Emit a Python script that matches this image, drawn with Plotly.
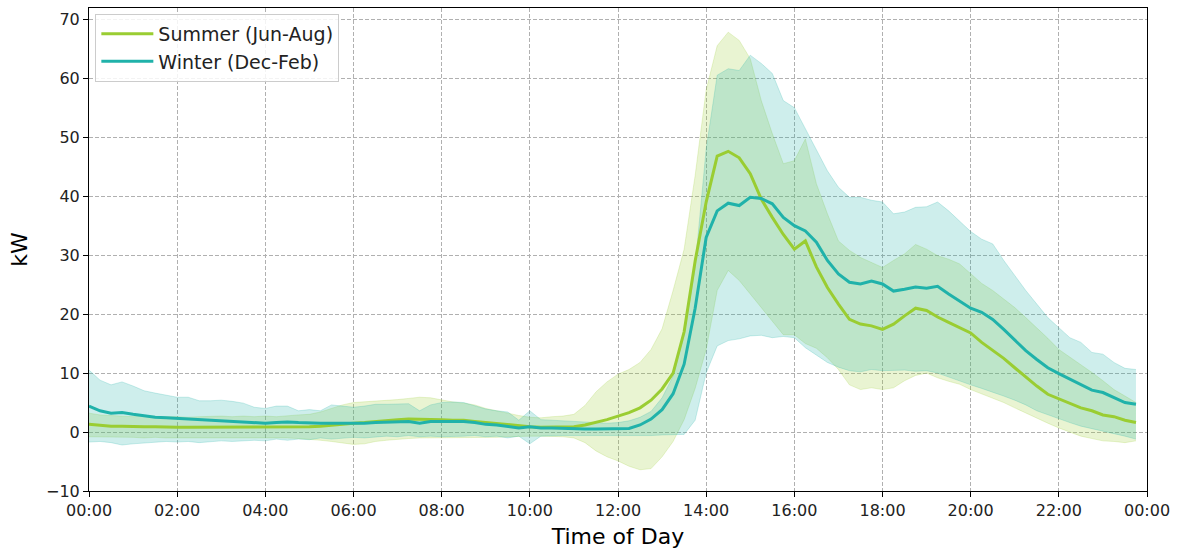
import plotly.graph_objects as go

# Average charging load per 15-minute slot (kW), with the spread band
slot_hours = [i * 0.25 for i in range(96)]

summer_mean = [
    1.3, 1.1, 1.0, 1.0,  0.9, 0.9, 0.9, 0.8,  0.8, 0.8, 0.8, 0.9,  0.9, 0.8, 0.9, 0.8,
    0.9, 0.8, 0.9, 0.9,  0.9, 1.0, 1.2, 1.4,  1.5, 1.6, 1.8, 2.0,  2.1, 2.2, 2.2, 2.2,
    2.1, 2.0, 2.0, 1.8,  1.6, 1.4, 1.2, 1.0,  0.9, 0.8, 0.8, 0.8,  0.9, 1.2, 1.6, 2.1,
    2.7, 3.3, 4.1, 5.4,  7.3, 10.0, 17.0, 29.0,  39.0, 46.8, 47.6, 46.5,  43.8, 39.5, 36.4, 33.5,
    31.0, 32.4, 28.0, 24.5,  21.7, 19.1, 18.3, 18.0,  17.4, 18.3, 19.7, 21.0,  20.6, 19.5, 18.6, 17.7,
    16.8, 15.2, 13.8, 12.5,  10.9, 9.3, 7.8, 6.4,  5.6, 4.8, 4.1, 3.6,  2.9, 2.6, 2.0, 1.6,
]
summer_hi = [
    3.2, 2.9, 2.8, 2.7,  2.6, 2.7, 2.6, 2.6,  2.6, 2.5, 2.6, 2.7,  2.7, 2.6, 2.7, 2.6,
    2.7, 2.6, 2.8, 2.9,  3.0, 3.4, 4.0, 4.6,  5.0, 5.1, 5.2, 5.3,  5.5, 5.7, 5.9, 5.8,
    5.4, 5.1, 4.9, 4.6,  4.0, 3.6, 3.1, 2.8,  2.5, 2.4, 2.6, 2.7,  3.0, 4.5, 6.8, 8.5,
    9.8, 10.6, 11.8, 14.0,  17.5, 24.0, 31.0, 43.5,  58.0, 65.5, 67.8, 66.4,  63.3, 56.2, 50.6, 45.5,
    46.0, 49.7, 42.1, 37.0,  32.4, 30.8, 29.6, 28.8,  27.9, 29.1, 30.2, 31.8,  31.0, 29.9, 29.3, 28.5,
    26.8, 25.2, 24.0, 22.6,  21.1, 19.4, 17.7, 15.9,  14.0, 12.7, 11.5, 10.1,  8.7, 7.2, 6.1, 5.0,
]
summer_lo = [
    -0.8, -0.8, -0.9, -0.9,  -0.9, -1.0, -0.9, -1.0,  -1.0, -0.9, -1.0, -0.9,  -0.9, -1.0, -0.9, -1.0,
    -1.0, -0.9, -1.0, -1.1,  -1.2, -1.4, -1.6, -1.9,  -2.1, -2.0, -1.6, -1.4,  -1.2, -1.1, -1.0, -1.0,
    -1.0, -1.0, -1.0, -1.0,  -1.0, -0.9, -0.8, -0.7,  -0.7, -0.7, -0.7, -0.8,  -1.0, -1.8, -3.2, -4.2,
    -4.9, -5.8, -6.4, -6.2,  -4.2, -1.6, 2.1, 7.4,  14.0, 24.0, 27.4, 25.7,  23.4, 21.1, 18.9, 16.5,
    16.5, 15.0, 14.2, 12.6,  10.6, 8.0, 7.2, 7.5,  7.2, 7.5, 8.7, 9.6,  10.0, 9.2, 8.6, 8.1,
    7.2, 6.5, 5.8, 5.0,  4.1, 3.2, 2.4, 1.5,  0.7, 0.0, -0.7, -1.1,  -1.5, -1.6, -1.8, -1.5,
]

winter_mean = [
    4.4, 3.6, 3.2, 3.3,  3.0, 2.7, 2.5, 2.4,  2.3, 2.2, 2.0, 1.9,  1.9, 1.8, 1.7, 1.6,
    1.5, 1.6, 1.7, 1.6,  1.5, 1.5, 1.5, 1.5,  1.4, 1.5, 1.6, 1.7,  1.7, 1.8, 1.5, 1.8,
    1.8, 1.8, 1.8, 1.6,  1.3, 1.2, 1.0, 0.7,  0.9, 0.7, 0.7, 0.6,  0.6, 0.5, 0.5, 0.5,
    0.5, 0.6, 1.2, 2.2,  3.8, 6.5, 11.5, 21.0,  33.0, 37.5, 38.8, 38.4,  39.8, 39.6, 38.7, 36.4,
    35.0, 34.1, 32.2, 29.1,  26.8, 25.4, 25.1, 25.6,  25.1, 23.9, 24.2, 24.6,  24.4, 24.7, 23.4, 22.2,
    21.0, 20.3, 19.1, 17.4,  15.6, 13.8, 12.3, 10.9,  9.9, 9.0, 8.1, 7.1,  6.7, 5.8, 5.0, 4.7,
]
winter_hi = [
    10.5, 8.8, 8.0, 8.5,  7.8, 7.0, 6.6, 6.2,  5.9, 5.9, 5.3, 5.3,  5.4, 5.2, 4.9, 4.2,
    4.0, 4.4, 4.4, 3.6,  3.8, 3.6, 4.6, 4.4,  4.2, 4.4, 4.7, 4.7,  4.8, 4.8, 3.6, 4.6,
    5.0, 5.1, 5.0, 4.5,  3.9, 3.6, 3.4, 2.0,  3.6, 2.1, 2.0, 1.9,  1.7, 1.6, 1.5, 1.5,
    1.6, 1.9, 2.5, 3.5,  5.8, 9.5, 16.5, 28.0,  48.0, 60.5, 61.6, 61.3,  63.9, 62.5, 60.8, 56.2,
    55.0, 51.4, 47.7, 44.3,  41.5, 39.8, 39.8, 39.3,  39.0, 37.0, 37.3, 38.1,  38.2, 39.0, 37.5, 35.8,
    34.0, 32.7, 31.9, 29.1,  26.5, 24.0, 21.7, 19.4,  17.7, 16.0, 15.2, 13.5,  13.2, 11.8, 10.8, 10.6,
]
winter_lo = [
    -1.7, -1.6, -1.8, -2.2,  -2.0, -1.9, -1.8, -1.6,  -1.7, -1.6, -1.8, -1.6,  -1.5, -1.6, -1.5, -1.4,
    -1.5, -1.2, -1.4, -1.2,  -1.3, -1.0, -1.2, -1.0,  -0.9, -1.0, -0.8, -0.7,  -0.8, -0.6, -0.8, -0.7,
    -0.8, -0.8, -0.7, -0.6,  -0.8, -0.7, -1.0, -0.7,  -2.0, -0.7, -0.6, -0.6,  -0.6, -0.6, -0.7, -0.7,
    -0.7, -0.7, -0.7, -0.6,  -0.5, -0.5, -0.4, 2.0,  10.0, 14.6, 15.5, 15.8,  16.3, 16.4, 16.0, 16.2,
    16.0, 14.3, 13.0, 11.8,  11.0, 10.4, 10.2, 10.6,  10.4, 10.4, 10.5, 10.3,  10.4, 10.0, 9.3, 8.7,
    8.0, 7.4, 6.8, 6.1,  5.4, 4.6, 3.6, 2.9,  2.2, 1.6, 1.0, 0.6,  0.2, -0.2, -0.7, -1.2,
]

tick_hours = [0, 2, 4, 6, 8, 10, 12, 14, 16, 18, 20, 22, 24]
tick_labels = ["00:00", "02:00", "04:00", "06:00", "08:00", "10:00", "12:00",
               "14:00", "16:00", "18:00", "20:00", "22:00", "00:00"]
y_ticks = [-10, 0, 10, 20, 30, 40, 50, 60, 70]

SUMMER_RGB = (154, 205, 50)   # yellowgreen
WINTER_RGB = (32, 178, 170)   # lightseagreen


def rgba(rgb, a):
    return "rgba(%d,%d,%d,%.2f)" % (rgb[0], rgb[1], rgb[2], a)


fig = go.Figure()

seasons = [
    ("Summer (Jun-Aug)", summer_mean, summer_lo, summer_hi, SUMMER_RGB),
    ("Winter (Dec-Feb)", winter_mean, winter_lo, winter_hi, WINTER_RGB),
]

# shaded spread bands
for name, mean, lo, hi, rgb in seasons:
    fig.add_trace(go.Scatter(x=slot_hours, y=lo, mode="lines",
                             line=dict(color=rgba(rgb, 0.22), width=1),
                             showlegend=False, hoverinfo="skip"))
    fig.add_trace(go.Scatter(x=slot_hours, y=hi, mode="lines", fill="tonexty",
                             fillcolor=rgba(rgb, 0.22),
                             line=dict(color=rgba(rgb, 0.22), width=1),
                             showlegend=False, hoverinfo="skip"))

# mean profiles
for name, mean, lo, hi, rgb in seasons:
    fig.add_trace(go.Scatter(x=slot_hours, y=mean, mode="lines", name=name,
                             line=dict(color=rgba(rgb, 1), width=3)))

axis_common = dict(
    showgrid=True, gridcolor="#b0b0b0", gridwidth=0.8, griddash="4px,2px",
    showline=True, linecolor="black", linewidth=1, mirror=True,
    ticks="outside", ticklen=5, tickcolor="black", zeroline=False,
    tickfont=dict(size=16, color="#222222"), automargin=False,
)

fig.update_layout(
    width=1183, height=549,
    margin=dict(l=89, r=36, t=8, b=58),
    plot_bgcolor="white", paper_bgcolor="white",
    font=dict(family="DejaVu Sans", size=16, color="black"),
    legend=dict(x=0.006, y=0.988, xanchor="left", yanchor="top",
                traceorder="normal", tracegroupgap=0,
                bgcolor="rgba(255,255,255,0.85)", bordercolor="#cccccc",
                borderwidth=1, font=dict(size=19, color="#222222"), itemwidth=52),
    xaxis=dict(range=[0, 24], tickvals=tick_hours, ticktext=tick_labels,
               title=dict(text="Time of Day", font=dict(size=22), standoff=9),
               **axis_common),
    yaxis=dict(range=[-10, 71.9], tickvals=y_ticks,
               title=dict(text="kW", font=dict(size=22), standoff=12),
               **axis_common),
)

fig.write_html("out.html")
